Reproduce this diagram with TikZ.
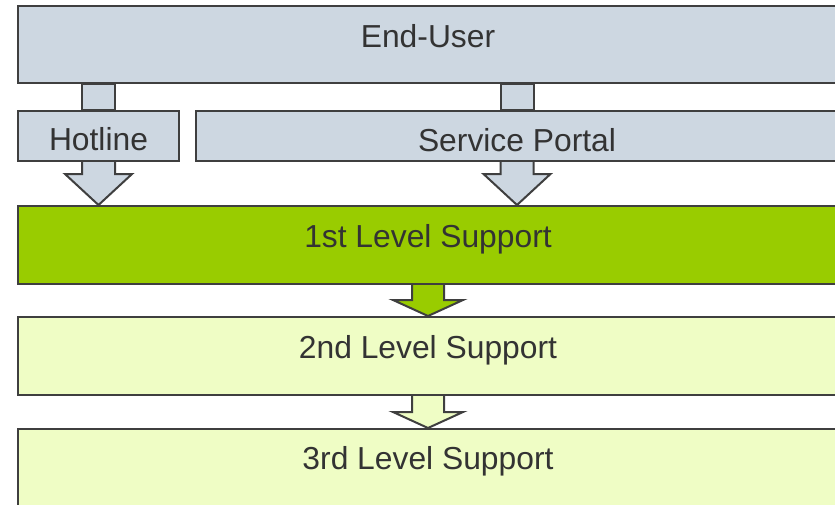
\documentclass[tikz,border=0pt]{standalone}
\usepackage{fontspec}
\setmainfont{Liberation Sans}
\usetikzlibrary{calc}
\definecolor{cgray}{HTML}{CDD7E1}
\definecolor{cgreen}{HTML}{99CC00}
\definecolor{clight}{HTML}{EFFDC5}
\definecolor{cline}{HTML}{3F3F3F}
\definecolor{ctext}{HTML}{333333}
\tikzset{
  box/.style={draw=cline, line width=2pt, rectangle, inner sep=0pt, anchor=north west},
  lbl/.style={text=ctext, font=\fontsize{31.8}{36}\selectfont, anchor=base, inner sep=0pt},
  barrow/.style={draw=cline, line width=2pt, line join=miter}
}
\begin{document}
\begin{tikzpicture}[x=1pt,y=-1pt]
\path[use as bounding box, clip] (0,0) rectangle (835,504);
% boxes
\node[box, fill=cgray, minimum width=820pt, minimum height=77pt] (eu) at (17,5) {};
\node[box, fill=cgray, minimum width=161pt, minimum height=50pt] (hot) at (17,110) {};
\node[box, fill=cgray, minimum width=642pt, minimum height=50pt] (sp) at (195,110) {};
\node[box, fill=cgreen, minimum width=820pt, minimum height=78pt] (l1) at (17,205) {};
\node[box, fill=clight, minimum width=820pt, minimum height=78pt] (l2) at (17,316) {};
\node[box, fill=clight, minimum width=820pt, minimum height=90pt] (l3) at (17,428) {};
% labels
\node[lbl] (eut) at ($(eu.north)+(0,42)$) {End-User};
\node[lbl] (hott) at ($(hot.north)+(0,40)$) {Hotline};
\node[lbl] (spt) at ($(sp.north)+(0,41)$) {Service Portal};
\node[lbl] (l1t) at ($(l1.north)+(0,42)$) {1st Level Support};
\node[lbl] (l2t) at ($(l2.north)+(0,42)$) {2nd Level Support};
\node[lbl] (l3t) at ($(l3.north)+(0,41)$) {3rd Level Support};
% shafts End-User -> Hotline / Service Portal
\draw[barrow, fill=cgray] let \p1=(eu.south), \p2=(hot.north) in
  (\x2-16.5pt,\y1) -- (\x2-16.5pt,\y2) -- (\x2+16.5pt,\y2) -- (\x2+16.5pt,\y1) -- cycle;
\draw[barrow, fill=cgray] let \p1=(eu.south), \p2=(sp.north) in
  (\x2-16.5pt,\y1) -- (\x2-16.5pt,\y2) -- (\x2+16.5pt,\y2) -- (\x2+16.5pt,\y1) -- cycle;
% block arrows
\draw[barrow, fill=cgray] let \p1=(hot.south), \p2=(l1.north) in
  (\x1-16.5pt,\y1) -- (\x1-16.5pt,\y2+31pt) -- (\x1-33.5pt,\y2+31pt) -- (\x1,\y2)
  -- (\x1+33.5pt,\y2+31pt) -- (\x1+16.5pt,\y2+31pt) -- (\x1+16.5pt,\y1);
\draw[barrow, fill=cgray] let \p1=(sp.south), \p2=(l1.north) in
  (\x1-16.5pt,\y1) -- (\x1-16.5pt,\y2+31pt) -- (\x1-33.5pt,\y2+31pt) -- (\x1,\y2)
  -- (\x1+33.5pt,\y2+31pt) -- (\x1+16.5pt,\y2+31pt) -- (\x1+16.5pt,\y1);
\draw[barrow, fill=cgreen] let \p1=(l1.south), \p2=(l2.north) in
  (\x1-16pt,\y1) -- (\x1-16pt,\y2+16pt) -- (\x1-35pt,\y2+16pt) -- (\x1,\y2)
  -- (\x1+35pt,\y2+16pt) -- (\x1+16pt,\y2+16pt) -- (\x1+16pt,\y1);
\draw[barrow, fill=clight] let \p1=(l2.south), \p2=(l3.north) in
  (\x1-16pt,\y1) -- (\x1-16pt,\y2+16pt) -- (\x1-35pt,\y2+16pt) -- (\x1,\y2)
  -- (\x1+35pt,\y2+16pt) -- (\x1+16pt,\y2+16pt) -- (\x1+16pt,\y1);
\end{tikzpicture}
\end{document}
